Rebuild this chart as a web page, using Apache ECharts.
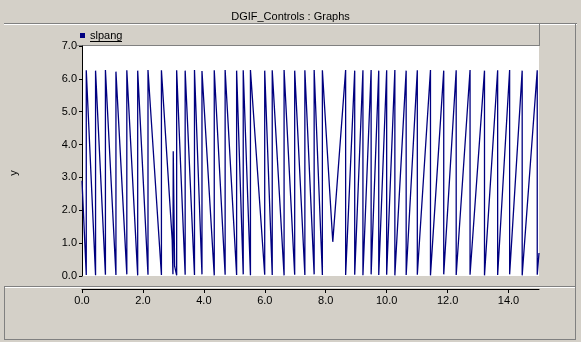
<!DOCTYPE html>
<html>
<head>
<meta charset="utf-8">
<script src="https://cdn.jsdelivr.net/npm/echarts@6/dist/echarts.min.js"></script>
<style>
html,body{margin:0;padding:0;background:#D4D0C8;}
#c{width:581px;height:342px;}
</style>
</head>
<body>
<div id="c"></div>
<script>
const chartTitle = 'DGIF_Controls : Graphs';
const seriesName = 'slpang';
const xTickValues = [0, 2, 4, 6, 8, 10, 12, 14];
const yTickValues = [0, 1, 2, 3, 4, 5, 6, 7];
const timeValues = [
  0,
  0.140, 0.140, 0.445, 0.445, 0.769, 0.769, 1.114, 1.114, 1.471, 1.471,
  1.828, 1.828, 2.166, 2.166, 2.607, 2.607,
  2.960, 2.985, 2.995, 3.040,
  3.107, 3.107, 3.386, 3.386, 3.692, 3.692, 3.938, 3.938, 4.341, 4.341,
  4.698, 4.698, 5.075, 5.075, 5.292, 5.292, 5.529, 5.529, 5.997, 5.997,
  6.244, 6.244, 6.633, 6.633, 6.981, 6.981, 7.315, 7.315, 7.620, 7.620,
  7.890, 7.890,
  8.231,
  8.653, 8.653, 8.951, 8.951, 9.221, 9.221, 9.490, 9.490, 9.740, 9.740,
  10.000, 10.000, 10.269, 10.269, 10.640, 10.640, 11.006, 11.006,
  11.438, 11.438, 11.873, 11.873, 12.282, 12.282, 12.737, 12.737,
  13.211, 13.211, 13.643, 13.643, 14.036, 14.036, 14.448, 14.448,
  14.942, 14.942,
  15.0
];
const slpangValues = [
  2.90,
  0.03, 6.26, 0.02, 6.25, 0.04, 6.27, 0.03, 6.22, 0.05, 6.26,
  0.02, 6.25, 0.04, 6.27, 0.03, 6.26,
  1.10, 0.05, 3.80, 0.30,
  0.02, 6.26, 0.04, 6.25, 0.03, 6.27, 0.05, 6.24, 0.02, 6.26,
  0.04, 6.27, 0.03, 6.25, 0.05, 6.26, 0.02, 6.27, 0.04, 6.25,
  0.03, 6.26, 0.02, 6.27, 0.04, 6.25, 0.03, 6.26, 0.05, 6.27,
  0.03, 6.26,
  1.04,
  6.27, 0.03, 6.25, 0.04, 6.26, 0.02, 6.27, 0.05, 6.25, 0.03,
  6.26, 0.04, 6.27, 0.02, 6.25, 0.03, 6.26, 0.04,
  6.27, 0.02, 6.25, 0.05, 6.26, 0.03, 6.27, 0.04,
  6.25, 0.02, 6.26, 0.03, 6.27, 0.05, 6.25, 0.02,
  6.26, 0.04,
  0.70
];

const seriesData = timeValues.map((t, i) => [t, slpangValues[i]]);
const dark = '#808080', light = '#FFFFFF';
const font = "'Liberation Sans', Arial, sans-serif";
const narrow = "'Liberation Sans Narrow', 'Liberation Sans', Arial, sans-serif";

function hline(x1, x2, y, color) {
  return { type: 'line', shape: { x1: x1, y1: y, x2: x2, y2: y }, style: { stroke: color, lineWidth: 1 }, silent: true };
}
function vline(x, y1, y2, color) {
  return { type: 'line', shape: { x1: x, y1: y1, x2: x, y2: y2 }, style: { stroke: color, lineWidth: 1 }, silent: true };
}

const chart = echarts.init(document.getElementById('c'), null, { renderer: 'canvas' });
chart.setOption({
  backgroundColor: '#D4D0C8',
  animation: false,
  title: {
    text: chartTitle, left: 'center', top: 6,
    textStyle: { fontFamily: font, fontSize: 11, fontWeight: 'normal', color: '#000' }
  },
  legend: {
    left: 80, top: 30, padding: 0, icon: 'rect', itemWidth: 5, itemHeight: 5,
    data: [seriesName],
    textStyle: { fontFamily: font, fontSize: 11, color: '#000' },
    selectedMode: false
  },
  grid: { left: 77, top: 46, width: 462, height: 230, show: true, backgroundColor: '#FFFFFF', borderWidth: 0 },
  xAxis: {
    type: 'value', min: 0, max: 15, interval: 2, offset: 13,
    axisLine: { show: true, onZero: false, lineStyle: { color: '#000', width: 1 } },
    axisTick: { show: true, length: 4, customValues: xTickValues, lineStyle: { color: '#000' } },
    axisLabel: { customValues: xTickValues, margin: 6, fontFamily: narrow, fontSize: 11, color: '#000', formatter: v => v.toFixed(1) },
    splitLine: { show: false }
  },
  yAxis: {
    type: 'value', min: 0, max: 7, interval: 1,
    name: 'y', nameLocation: 'middle', nameGap: 63,
    nameTextStyle: { fontFamily: font, fontSize: 11, color: '#000', padding: [0, 24, 0, 0] },
    axisLine: { show: true, lineStyle: { color: '#000', width: 1 } },
    axisTick: { show: true, length: 3, customValues: yTickValues, lineStyle: { color: '#000' } },
    axisLabel: { customValues: yTickValues, margin: 5, fontFamily: narrow, fontSize: 11, color: '#000', formatter: v => v.toFixed(1) },
    splitLine: { show: false }
  },
  graphic: [
    hline(4, 577, 23.5, dark), hline(4, 577, 24.5, light),
    hline(77, 539, 45.5, dark), vline(539.5, 24, 46, dark),
    vline(575.5, 24, 286, dark),
    hline(4, 576, 286.5, dark), hline(4, 576, 287.5, light),
    vline(4.5, 287, 339, dark), hline(4, 576, 339.5, dark), vline(575.5, 287, 340, dark),
    hline(90, 122, 41.5, '#000')
  ],
  series: [{
    name: seriesName, type: 'line', data: seriesData,
    showSymbol: false, symbol: 'none',
    lineStyle: { color: '#000080', width: 1.3 },
    itemStyle: { color: '#000080' }
  }]
});
</script>
</body>
</html>
